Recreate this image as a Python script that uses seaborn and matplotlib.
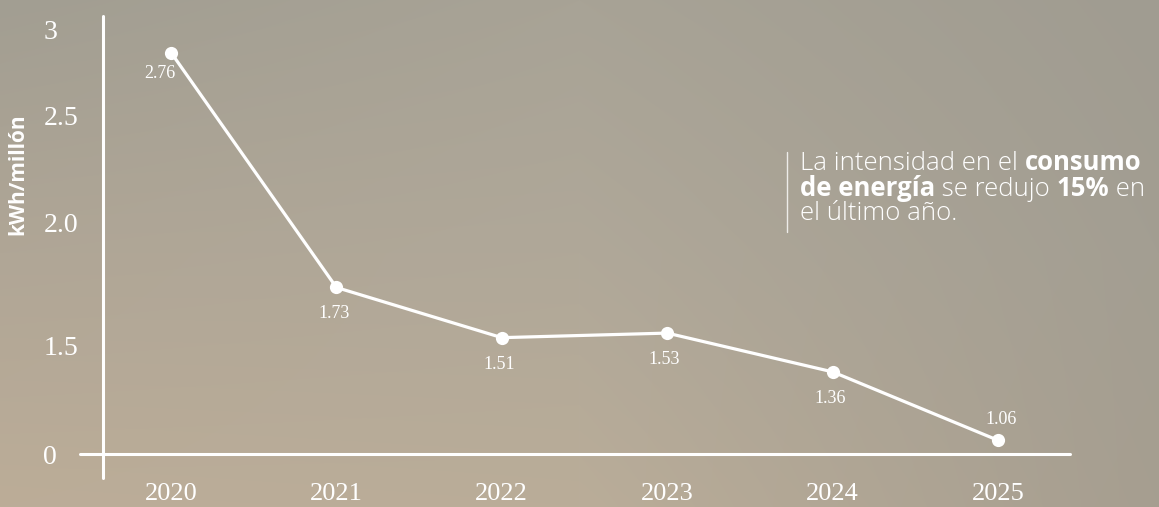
import numpy as np
import matplotlib.pyplot as plt
import seaborn as sns

# datos
anios = ['2020', '2021', '2022', '2023', '2024', '2025']
consumo = [2.76, 1.73, 1.51, 1.53, 1.36, 1.06]
etiquetas = ['2.76', '1.73', '1.51', '1.53', '1.36', '1.06']
ticks_y = [1.0, 1.477, 2.016, 2.485, 2.86]
ticks_y_txt = ['0', '1.5', '2.0', '2.5', '3']

sns.set_theme(style="white")
plt.rcParams['font.family'] = ['Liberation Serif', 'DejaVu Serif']

W, H = 1159, 507
fig = plt.figure(figsize=(W / 100, H / 100), dpi=100)

# fondo degradado
fondo = fig.add_axes([0, 0, 1, 1], zorder=-10)
esquinas = np.array([
    [[162, 158, 146], [168, 163, 150], [160, 156, 145]],
    [[176, 166, 150], [176, 168, 153], [163, 158, 146]],
    [[188, 173, 152], [186, 173, 153], [166, 158, 144]],
], dtype=float) / 255
yy = np.linspace(0, 2, H)
xx = np.linspace(0, 2, W)
img = np.zeros((H, W, 3))
for c in range(3):
    filas = np.array([np.interp(xx, [0, 1, 2], esquinas[r, :, c]) for r in range(3)])
    for j in range(W):
        img[:, j, c] = np.interp(yy, [0, 1, 2], filas[:, j])
fondo.imshow(img, aspect='auto', extent=[0, 1, 0, 1])
fondo.axis('off')

left, right, top, bottom = 103, 1070, 16, 454
ax = fig.add_axes([left / W, (H - bottom) / H, (right - left) / W, (bottom - top) / H])
ax.patch.set_alpha(0)

sns.lineplot(x=anios, y=consumo, ax=ax, color='white', linewidth=2.3,
             marker='o', markersize=9.5, markeredgewidth=0, sort=False)

ax.set_xlim(-0.411, 5.435)
ax.set_ylim(1.0, 2.92)
for s in ax.spines.values():
    s.set_visible(False)

# ejes dibujados a mano
ax.plot([0, 0], [-0.055, 1], transform=ax.transAxes, color='white', lw=2.2, clip_on=False)
ax.plot([-0.024, 1], [0, 0], transform=ax.transAxes, color='white', lw=2.2, clip_on=False)

ax.set_yticks(ticks_y)
ax.set_yticklabels(ticks_y_txt)
ax.tick_params(axis='y', length=0, pad=43, labelsize=20, labelcolor='white')
for t in ax.get_yticklabels():
    t.set_horizontalalignment('left')
ax.tick_params(axis='x', length=0, pad=21, labelsize=19, labelcolor='white')
ax.set_xlabel('')
ax.set_ylabel('')

# etiquetas de valores
for i, (v, txt) in enumerate(zip(consumo, etiquetas)):
    if i == 0:
        off = (-8, -15)
    elif i == len(consumo) - 1:
        off = (2, 15)
    else:
        off = (-2, -19)
    ax.annotate(txt, (i, v), xytext=off, textcoords='offset points',
                ha='center', va='center', fontsize=13, color='white')

fig.text(18 / W, 1 - 174 / H, 'kWh/millón', rotation=90, ha='center', va='center',
         fontsize=15, fontweight='bold', color='white', family=['Open Sans', 'DejaVu Sans'])

# texto explicativo
sans = ['Open Sans', 'DejaVu Sans']
lineas = [
    [('La intensidad en el ', 'light'), ('consumo', 'bold')],
    [('de energía', 'bold'), (' se redujo ', 'light'), ('15%', 'bold'), (' en', 'light')],
    [('el último año.', 'light')],
]
for k, partes in enumerate(lineas):
    y = 1 - (164 + 25 * k) / H
    prev = None
    for txt, peso in partes:
        if prev is None:
            prev = fig.text(800 / W, y, txt, ha='left', va='center', fontsize=18.5,
                            color='white', fontweight=peso, family=sans)
        else:
            prev = ax.annotate(txt, xy=(1, 0), xycoords=prev, ha='left', va='bottom',
                               fontsize=18.5, color='white', fontweight=peso,
                               family=sans, annotation_clip=False)
fig.add_artist(plt.Line2D([787 / W, 787 / W], [1 - 152 / H, 1 - 232 / H],
                          color='white', lw=1, alpha=0.8))

fig.savefig('out.png', dpi=100)
